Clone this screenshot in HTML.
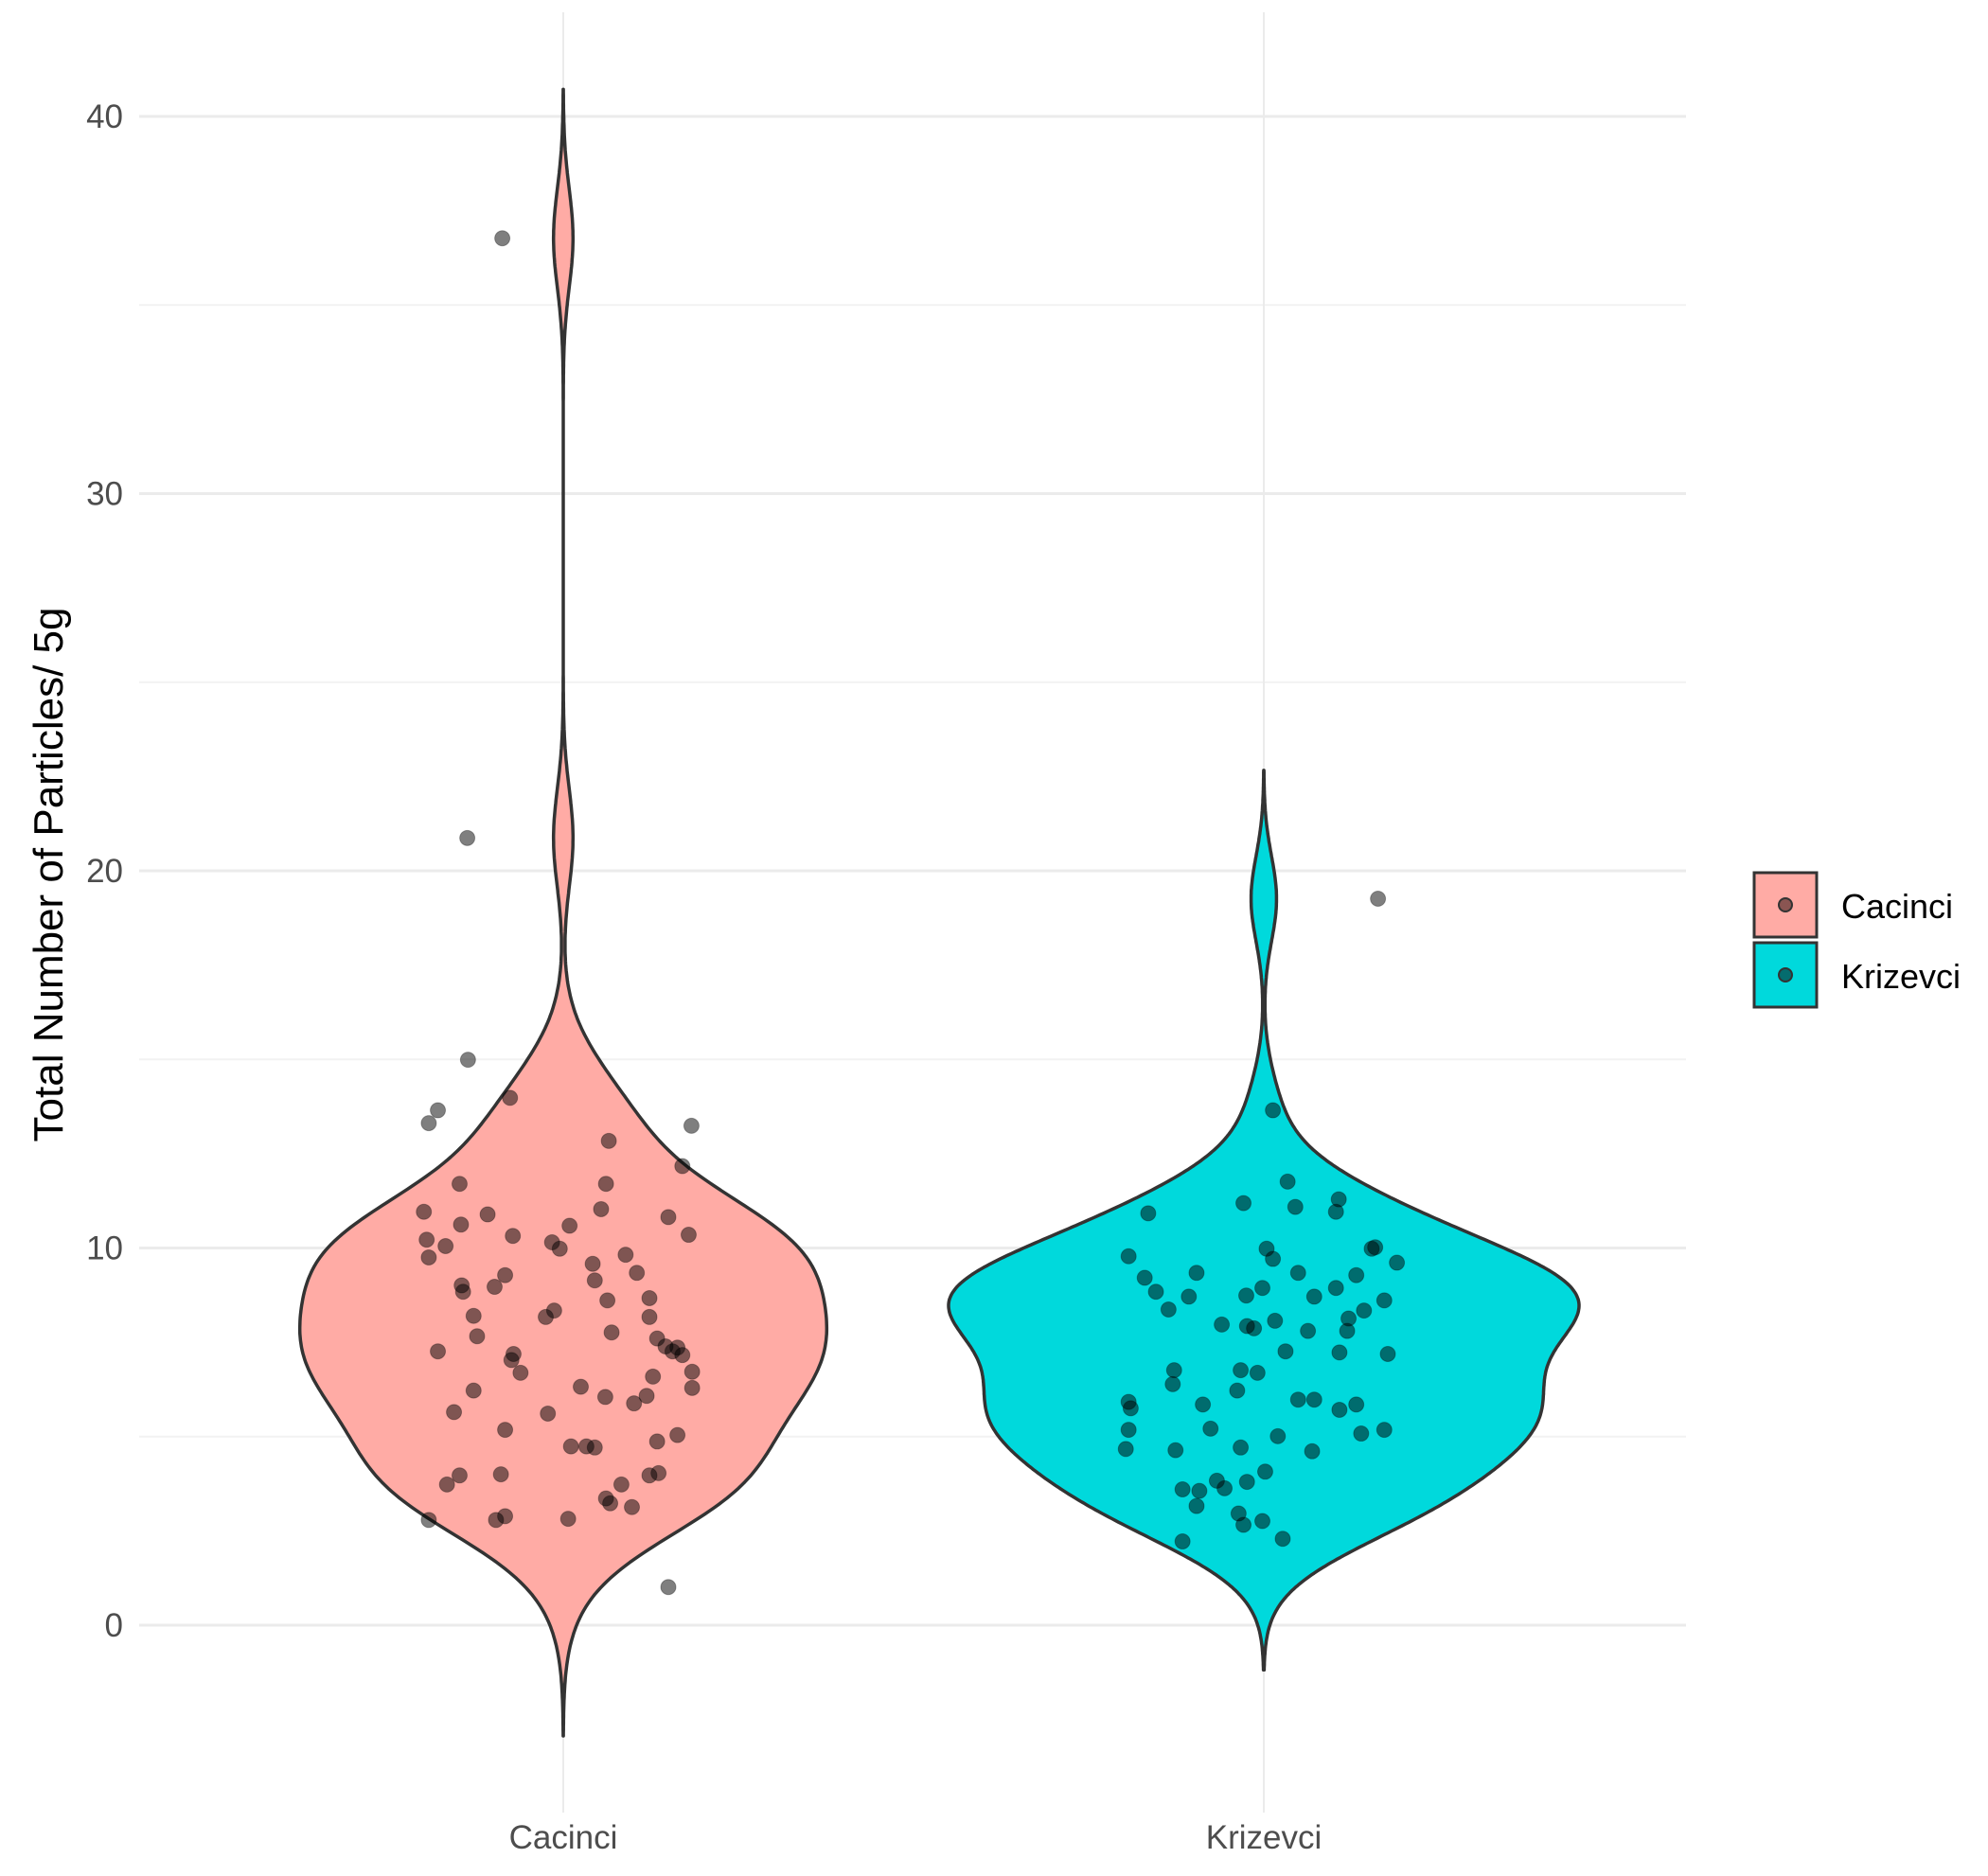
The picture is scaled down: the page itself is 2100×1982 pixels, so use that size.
<!DOCTYPE html>
<html><head><meta charset="utf-8"><style>
html,body{margin:0;padding:0;background:#fff;}
svg{display:block;font-family:"Liberation Sans",sans-serif;}
</style></head><body>
<svg id="chart" width="2100" height="1982" viewBox="0 0 2100 1982" xmlns="http://www.w3.org/2000/svg">
<g id="grid"></g>
<g id="violins"></g>
<g id="points"></g>
<g id="axes"></g>
<text x="0" y="0" transform="translate(66,924) rotate(-90)" text-anchor="middle" font-size="44" fill="#000">Total Number of Particles/ 5g</text>
<g>
  <g>
    <rect x="1853" y="922" width="66" height="68" fill="#ffaba5" stroke="#333" stroke-width="3"/>
    <circle cx="1886" cy="956" r="7" fill="#8a5552" stroke="#333" stroke-width="2"/>
    <text x="1945" y="970" font-size="36" fill="#000">Cacinci</text>
  </g>
  <g>
    <rect x="1853" y="996" width="66" height="68" fill="#00d9dc" stroke="#333" stroke-width="3"/>
    <circle cx="1886" cy="1030" r="7" fill="#056c6e" stroke="#333" stroke-width="2"/>
    <text x="1945" y="1044" font-size="36" fill="#000">Krizevci</text>
  </g>
</g>
</svg>
<script>
const categories = ["Cacinci","Krizevci"];
const yTicks = [0,10,20,30,40];
const yMinor = [5,15,25,35];
const cacinciValues = [36.77,20.87,14.99,13.65,13.31,13.98,13.24,12.84,12.17,11.70,11.70,10.96,10.89,11.03,10.82,10.62,10.59,10.22,10.32,10.35,10.05,9.75,10.15,9.98,9.82,9.58,9.28,9.34,9.14,9.01,8.97,8.84,8.61,8.67,8.34,8.17,8.20,8.17,7.76,7.66,7.60,7.39,7.36,7.26,7.16,7.26,7.19,7.03,6.69,6.72,6.59,6.22,6.32,6.29,6.05,6.08,5.88,5.65,5.61,5.18,5.04,4.87,4.74,4.74,4.71,3.97,4.00,4.03,3.97,3.73,3.73,3.36,3.23,3.13,2.79,2.89,2.79,2.82,1.01];
const cacinciJitter = [-0.087,-0.137,-0.136,-0.179,-0.192,-0.076,0.183,0.065,0.170,-0.148,0.061,-0.199,-0.108,0.054,0.150,-0.146,0.009,-0.195,-0.072,0.179,-0.168,-0.192,-0.016,-0.005,0.089,0.042,-0.083,0.105,0.045,-0.145,-0.098,-0.143,0.063,0.123,-0.013,-0.025,-0.128,0.123,0.069,-0.123,0.134,0.146,0.163,0.156,0.170,-0.179,-0.071,-0.074,-0.061,0.184,0.128,-0.128,0.025,0.184,0.060,0.119,0.101,-0.156,-0.022,-0.083,0.163,0.134,0.011,0.033,0.045,-0.148,-0.089,0.136,0.123,-0.166,0.083,0.061,0.067,0.098,-0.192,-0.083,-0.096,0.007,0.150];
const krizevciValues = [19.26,13.65,11.76,11.19,11.29,11.09,10.92,10.96,9.98,9.98,10.02,9.71,9.78,9.61,9.34,9.34,9.28,9.21,8.84,8.94,8.94,8.74,8.71,8.71,8.61,8.37,8.34,8.13,8.07,7.97,7.93,7.87,7.80,7.80,7.26,7.23,7.19,6.76,6.76,6.69,6.39,6.22,5.92,5.98,5.98,5.85,5.75,5.85,5.71,5.21,5.18,5.18,5.08,5.01,4.67,4.64,4.71,4.61,4.07,3.80,3.83,3.63,3.60,3.56,3.16,2.96,2.76,2.66,2.29,2.22];
const krizevciJitter = [0.163,0.013,0.034,-0.029,0.107,0.045,-0.165,0.103,0.004,0.154,0.159,0.013,-0.193,0.190,-0.096,0.049,0.132,-0.170,-0.154,-0.002,0.103,-0.025,-0.107,0.072,0.172,-0.136,0.143,0.121,0.016,-0.060,-0.024,-0.014,0.119,0.063,0.031,0.108,0.177,-0.128,-0.033,-0.009,-0.130,-0.038,-0.193,0.049,0.072,-0.087,-0.190,0.132,0.108,-0.076,-0.193,0.172,0.139,0.020,-0.197,-0.126,-0.033,0.069,0.002,-0.024,-0.067,-0.056,-0.116,-0.092,-0.096,-0.036,-0.002,-0.029,0.027,-0.116];

const NS="http://www.w3.org/2000/svg";
const Y0=1717, PXU=39.85;
function yScale(v){return Y0 - v*PXU;}
const X0=595, DX=740;
function xScale(i){return X0 + i*DX;}
function mk(tag,attrs,parent){const e=document.createElementNS(NS,tag);for(const k in attrs)e.setAttribute(k,attrs[k]);parent.appendChild(e);return e;}

const grid=document.getElementById('grid');
yMinor.forEach(v=>{
  const l=mk('line',{x1:147,x2:1781,y1:yScale(v),y2:yScale(v),stroke:'#f2f2f2','stroke-width':2},grid);
  
  
});
yTicks.forEach(v=>{
  const l=mk('line',{x1:147,x2:1781,y1:yScale(v),y2:yScale(v),stroke:'#ebebeb','stroke-width':3},grid);
  
  
});
categories.forEach((c,i)=>{
  const l=mk('line',{x1:xScale(i),x2:xScale(i),y1:13,y2:1915,stroke:'#ebebeb','stroke-width':2},grid);
  
  
});

const axes=document.getElementById('axes');
yTicks.forEach(v=>{
  const t=mk('text',{x:130,y:yScale(v)+12,'text-anchor':'end','font-size':35,fill:'#4d4d4d'},axes);
  t.textContent=v;
  
  
});
categories.forEach((c,i)=>{
  const t=mk('text',{x:xScale(i),y:1953,'text-anchor':'middle','font-size':35,fill:'#4d4d4d'},axes);
  t.textContent=c;
  
  
});

function bwNrd0(a){
  const n=a.length,m=a.reduce((s,v)=>s+v,0)/n;
  const sd=Math.sqrt(a.reduce((s,v)=>s+(v-m)*(v-m),0)/(n-1));
  const s=[...a].sort((p,q)=>p-q);
  const q=p=>{const h=(n-1)*p,lo=Math.floor(h);return s[lo]+(h-lo)*((s[lo+1]??s[lo])-s[lo]);};
  const iqr=q(0.75)-q(0.25);
  return 0.9*Math.min(sd,iqr/1.34)*Math.pow(n,-0.2);
}
function kde(a){
  const bw=bwNrd0(a)*0.98;
  const lo=Math.min(...a)-3*bw, hi=Math.max(...a)+3*bw;
  const pts=[];
  for(let k=0;k<=512;k++){
    const y=lo+(hi-lo)*k/512;let d=0;
    a.forEach(v=>{const z=(y-v)/bw;d+=Math.exp(-0.5*z*z);});
    pts.push([y,d/(a.length*bw*Math.sqrt(2*Math.PI))]);
  }
  return pts;
}
const series=[cacinciValues,krizevciValues];
const jitters=[cacinciJitter,krizevciJitter];
const fills=['#ffaba5','#00d9dc'];
const dens=series.map(kde);
const maxD=Math.max(...dens.map(d=>Math.max(...d.map(p=>p[1]))));
const vg=document.getElementById('violins');
dens.forEach((d,i)=>{
  const cx=xScale(i);
  const right=d.map(p=>[cx+p[1]/maxD*0.45*DX,yScale(p[0])]);
  const left=d.slice().reverse().map(p=>[cx-p[1]/maxD*0.45*DX,yScale(p[0])]);
  const all=right.concat(left);
  const path=mk('path',{d:'M'+all.map(p=>p[0].toFixed(1)+','+p[1].toFixed(1)).join('L')+'Z',fill:fills[i],stroke:'#333','stroke-width':3.5,'stroke-linejoin':'round'},vg);
  
  
});
const pg=document.getElementById('points');
series.forEach((arr,i)=>{
  arr.forEach((v,j)=>{
    const c=mk('circle',{cx:xScale(i+jitters[i][j]),cy:yScale(v),r:8,fill:'#000','fill-opacity':0.5,stroke:'#000','stroke-opacity':0.3,'stroke-width':1},pg);
    
    
  });
});
</script>
</body></html>
